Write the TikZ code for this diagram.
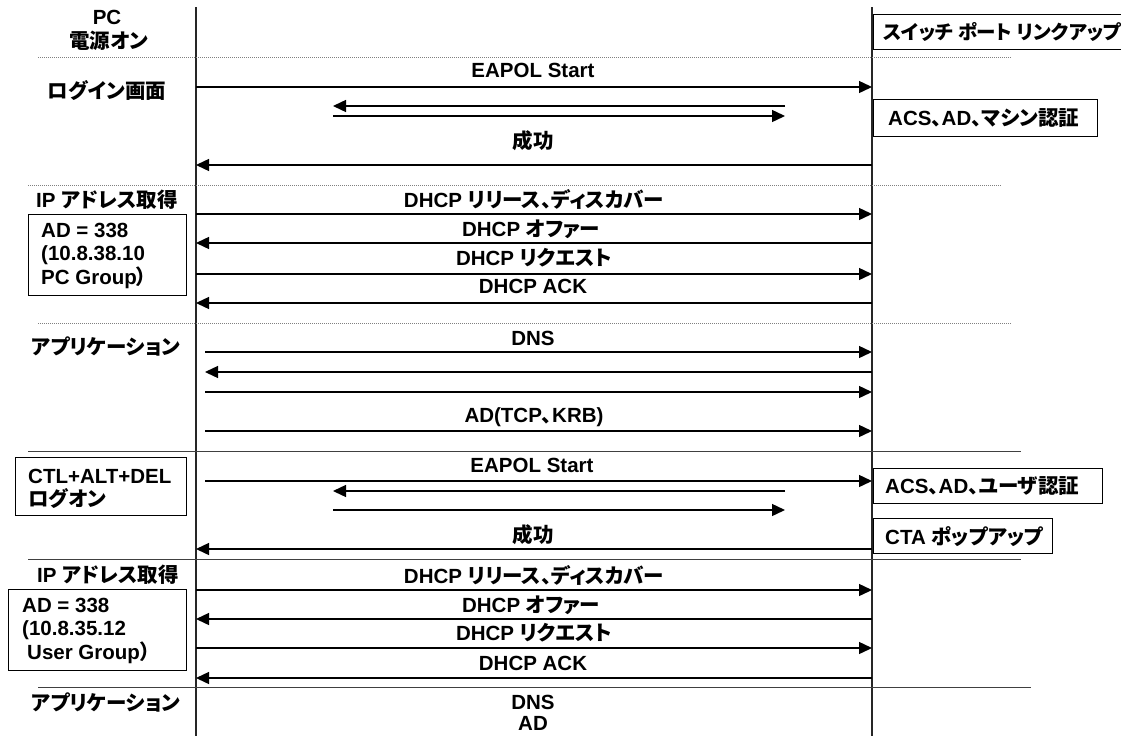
\documentclass[tikz,border=0pt]{standalone}
\usepackage{fontspec}
\setmainfont{Liberation Sans}
\newfontfamily\jp{Noto Sans CJK JP}[RawFeature=+palt]
\usetikzlibrary{arrows.meta}
\newcommand\J[1]{{\jp #1}}
\begin{document}
\begin{tikzpicture}[x=1pt,y=-1pt,
  font=\fontsize{20.5}{23.5}\selectfont\bfseries,
  life/.style={line width=1.4pt,black!85},
  msg/.style={line width=1.4pt,-{Triangle[length=13pt,width=12pt]}},
  dotsep/.style={gray,line width=1pt,dash pattern=on 1pt off 1pt},
  sep/.style={line width=1pt,black!75},
  lbl/.style={inner sep=0pt,anchor=base},
  boxx/.style={draw,line width=1.4pt,anchor=north west,inner sep=0pt},
  btxt/.style={inner sep=0pt,anchor=west,align=left},
]
\clip (0,0) rectangle (1121,736);
\useasboundingbox (0,0) rectangle (1121,736);
% lifeline anchors
\coordinate (PC) at (196,0);
\coordinate (PCi) at (205,0);
\coordinate (SW) at (872,0);
\coordinate (IA) at (333,0);
\coordinate (IB) at (785,0);
\coordinate (pcTop) at (196,7);
\coordinate (pcBot) at (196,736);
\coordinate (swTop) at (872,7);
\coordinate (swBot) at (872,736);
\draw[life] (pcTop) -- (pcBot);
\draw[life] (swTop) -- (swBot);

% separators
\coordinate (s1a) at (38,57);  \coordinate (s1b) at (1012,57);
\coordinate (s2a) at (28,185); \coordinate (s2b) at (1002,185);
\coordinate (s3a) at (38,323); \coordinate (s3b) at (1011,323);
\coordinate (s4a) at (28,451); \coordinate (s4b) at (1021,451);
\coordinate (s5a) at (28,559); \coordinate (s5b) at (1021,559);
\coordinate (s6a) at (38,687); \coordinate (s6b) at (1031,687);
\draw[dotsep] (s1a) -- (s1b);
\draw[dotsep] (s2a) -- (s2b);
\draw[dotsep] (s3a) -- (s3b);
\draw[sep] (s4a) -- (s4b);
\draw[sep] (s5a) -- (s5b);
\draw[sep] (s6a) -- (s6b);

% messages
\draw[msg] (PC |- 0,87) -- (SW |- 0,87);
\draw[msg] (IB |- 0,106) -- (IA |- 0,106);
\draw[msg] (IA |- 0,116) -- (IB |- 0,116);
\draw[msg] (SW |- 0,165) -- (PC |- 0,165);
\draw[msg] (PC |- 0,214) -- (SW |- 0,214);
\draw[msg] (SW |- 0,243) -- (PC |- 0,243);
\draw[msg] (PC |- 0,274) -- (SW |- 0,274);
\draw[msg] (SW |- 0,303) -- (PC |- 0,303);
\draw[msg] (PCi |- 0,352) -- (SW |- 0,352);
\draw[msg] (SW |- 0,372) -- (PCi |- 0,372);
\draw[msg] (PCi |- 0,392) -- (SW |- 0,392);
\draw[msg] (PCi |- 0,431) -- (SW |- 0,431);
\draw[msg] (PCi |- 0,481) -- (SW |- 0,481);
\draw[msg] (IB |- 0,491) -- (IA |- 0,491);
\draw[msg] (IA |- 0,510) -- (IB |- 0,510);
\draw[msg] (SW |- 0,549) -- (PC |- 0,549);
\draw[msg] (PC |- 0,590) -- (SW |- 0,590);
\draw[msg] (SW |- 0,619) -- (PC |- 0,619);
\draw[msg] (PC |- 0,648) -- (SW |- 0,648);
\draw[msg] (SW |- 0,678) -- (PC |- 0,678);

% message labels
\node[lbl] (m1) at (533,77.5) {EAPOL Start};
\node[lbl] (m2) at (533,148.5) {\J{成功}};
\node[lbl] (m3) at (534,207.5) {DHCP \J{リリース、ディスカバー}};
\node[lbl] (m4) at (531,236.5) {DHCP \J{オファー}};
\node[lbl] (m5) at (534,265.5) {DHCP \J{リクエスト}};
\node[lbl] (m6) at (533,293.5) {DHCP ACK};
\node[lbl] (m7) at (533,345.5) {DNS};
\node[lbl] (m8) at (534,422.5) {AD(TCP\J{、}KRB)};
\node[lbl] (m9) at (532,472.5) {EAPOL Start};
\node[lbl] (m10) at (533,542.5) {\J{成功}};
\node[lbl] (m11) at (534,583.5) {DHCP \J{リリース、ディスカバー}};
\node[lbl] (m12) at (531,612.5) {DHCP \J{オファー}};
\node[lbl] (m13) at (534,640.5) {DHCP \J{リクエスト}};
\node[lbl] (m14) at (533,670.5) {DHCP ACK};
\node[lbl] (m15) at (533,709.5) {DNS};
\node[lbl] (m16) at (533,730.5) {AD};

% left-side phase labels
\node[lbl] (pc) at (107,24.5) {PC};
\node[lbl] (pon) at (109,48.5) {\J{電源オン}};
\node[lbl] (login) at (107,98.5) {\J{ログイン画面}};
\node[lbl] (ip1) at (107,207.5) {IP \J{アドレス取得}};
\node[lbl] (app1) at (106,354.5) {\J{アプリケーション}};
\node[lbl] (ip2) at (108,582.5) {IP \J{アドレス取得}};
\node[lbl] (app2) at (106,710.5) {\J{アプリケーション}};

% boxes
\node[boxx,minimum width=262,minimum height=35] (swb) at (873,14) {};
\node[btxt,font=\fontsize{19.5}{22}\selectfont\bfseries] at ([xshift=10pt]swb.west) {\J{スイッチ ポート リンクアップ}};
\node[boxx,minimum width=224,minimum height=37] (acs1) at (873,99) {};
\node[btxt] at ([xshift=15pt]acs1.west) {ACS\J{、}AD\J{、マシン認証}};
\node[boxx,minimum width=158,minimum height=81] (ad1) at (28,214) {};
\node[btxt] at ([xshift=13pt,yshift=-0.5pt]ad1.west) {AD = 338\\(10.8.38.10\\PC Group\J{）}};
\node[boxx,minimum width=171,minimum height=58] (ctl) at (15,457) {};
\node[btxt] at ([xshift=13pt,yshift=-2pt]ctl.west) {CTL+ALT+DEL\\\J{ログオン}};
\node[boxx,minimum width=229,minimum height=35] (acs2) at (873,468) {};
\node[btxt] at ([xshift=12pt]acs2.west) {ACS\J{、}AD\J{、ユーザ認証}};
\node[boxx,minimum width=179,minimum height=35] (cta) at (873,518) {};
\node[btxt] at ([xshift=12pt]cta.west) {CTA \J{ポップアップ}};
\node[boxx,minimum width=178,minimum height=81] (ad2) at (8,589) {};
\node[btxt] at ([xshift=14pt,yshift=-0.5pt]ad2.west) {AD = 338\\(10.8.35.12\\\hspace*{5pt}User Group\J{）}};
\end{tikzpicture}
\end{document}
